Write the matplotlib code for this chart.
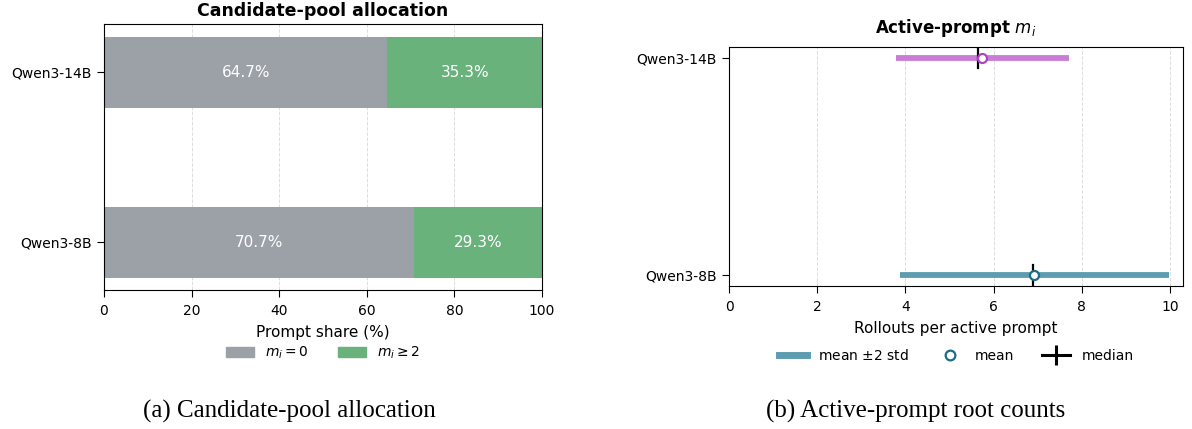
import numpy as np
import matplotlib.pyplot as plt
from matplotlib.patches import Patch
from matplotlib.lines import Line2D

# Daten
models = ["Qwen3-8B", "Qwen3-14B"]
share_zero = [70.7, 64.7]     # m_i = 0
share_two = [29.3, 35.3]      # m_i >= 2

lo = [3.88, 3.79]     # mean - 2 std (geclippt)
hi = [9.98, 7.70]     # mean + 2 std
means = [6.92, 5.73]
medians = [6.90, 5.64]

c_gray = "#9ca0a7"
c_green = "#6ab27c"
bar_cols = ["#5e9db0", "#c87ed6"]
dot_cols = ["#1b6b89", "#b042c8"]

fig = plt.figure(figsize=(11.92, 4.29), dpi=100)
ax1 = fig.add_axes([0.0872, 0.324, 0.3675, 0.619])
ax2 = fig.add_axes([0.6116, 0.333, 0.381, 0.557])

for ax in (ax1, ax2):
    ax.tick_params(axis="x", labelsize=10, length=5, pad=5)
    ax.tick_params(axis="y", labelsize=10, length=5, pad=4)
    ax.grid(axis="x", linestyle="--", color="#dddddd", linewidth=0.7)
    ax.set_axisbelow(True)

# (a) Candidate-pool allocation
y = np.arange(len(models))
ax1.barh(y, share_zero, height=0.42, color=c_gray)
ax1.barh(y, share_two, left=share_zero, height=0.42, color=c_green)
for i in range(len(models)):
    ax1.text(share_zero[i] / 2, y[i], f"{share_zero[i]:.1f}%", ha="center", va="center",
             color="white", fontsize=11)
    ax1.text(share_zero[i] + share_two[i] / 2, y[i], f"{share_two[i]:.1f}%", ha="center",
             va="center", color="white", fontsize=11)
ax1.set_yticks(y)
ax1.set_yticklabels(models)
ax1.set_xlim(0, 100)
ax1.set_xlabel("Prompt share (%)", fontsize=11, labelpad=5)
ax1.set_title("Candidate-pool allocation", fontsize=12.5, fontweight="bold", pad=6)
ax1.legend(handles=[Patch(color=c_gray, label=r"$m_i = 0$"),
                    Patch(color=c_green, label=r"$m_i \geq 2$")],
           loc="upper center", bbox_to_anchor=(0.5, -0.185), ncol=2, frameon=False,
           fontsize=10, handlelength=2.0, columnspacing=2.1, handletextpad=0.8,
           borderaxespad=0)

# (b) Active-prompt m_i
for i in range(len(models)):
    ax2.plot([lo[i], hi[i]], [y[i], y[i]], color=bar_cols[i], linewidth=4.2,
             solid_capstyle="butt", zorder=2)
    ax2.plot([medians[i], medians[i]], [y[i] - 0.046, y[i] + 0.046], color="black",
             linewidth=1.6, zorder=3)
    ax2.plot(means[i], y[i], "o", markersize=6.5, markerfacecolor="white",
             markeredgecolor=dot_cols[i], markeredgewidth=1.6, zorder=4)
ax2.set_yticks(y)
ax2.set_yticklabels(models)
ax2.set_ylim(-0.05, 1.05)
ax2.set_xlim(0, 10.3)
ax2.set_xlabel("Rollouts per active prompt", fontsize=11, labelpad=5)
ax2.set_title(r"Active-prompt $m_i$", fontsize=12, fontweight="bold", pad=10)
ax2.legend(handles=[Line2D([], [], color=bar_cols[0], linewidth=5, label=r"mean $\pm$2 std"),
                    Line2D([], [], linestyle="none", marker="o", markersize=7,
                           markerfacecolor="white", markeredgecolor=dot_cols[0],
                           markeredgewidth=1.6, label="mean"),
                    Line2D([], [], color="black", linewidth=2.2, marker="|",
                           markersize=15, markeredgewidth=2.2, label="median")],
           loc="upper center", bbox_to_anchor=(0.5, -0.235), ncol=3, frameon=False,
           fontsize=10, handlelength=2.0, columnspacing=2.0, handletextpad=0.8,
           borderaxespad=0)

# Unterschriften
fig.text(0.243, 0.042, "(a) Candidate-pool allocation", ha="center", va="center",
         fontsize=18, family="Liberation Serif")
fig.text(0.768, 0.042, "(b) Active-prompt root counts", ha="center", va="center",
         fontsize=18, family="Liberation Serif")

fig.savefig("out.png", dpi=100)
